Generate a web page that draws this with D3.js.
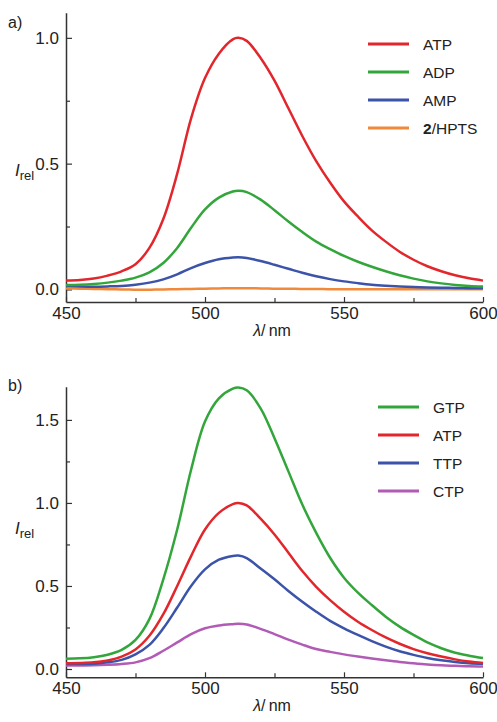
<!DOCTYPE html>
<html><head><meta charset="utf-8">
<script src="https://cdn.jsdelivr.net/npm/d3@7"></script>
<style>body{margin:0;background:#fff}svg{display:block}text{font-family:"Liberation Sans",Arial,sans-serif;fill:#222}</style>
</head><body>
<script>
const wavelengths = [450,455,460,465,470,475,480,485,490,495,500,505,510,512,515,520,525,530,535,540,545,550,555,560,565,570,575,580,585,590,595,600];
// panel a
const atpA = [0.035,0.037,0.043,0.055,0.072,0.10,0.165,0.28,0.46,0.68,0.84,0.937,0.994,1.0,0.988,0.92,0.83,0.72,0.61,0.51,0.425,0.35,0.29,0.235,0.19,0.15,0.118,0.092,0.072,0.056,0.044,0.035];
const adpA = [0.018,0.019,0.022,0.027,0.035,0.047,0.068,0.105,0.165,0.245,0.318,0.365,0.389,0.392,0.387,0.357,0.315,0.27,0.228,0.19,0.16,0.133,0.11,0.09,0.072,0.056,0.043,0.032,0.024,0.018,0.014,0.012];
const ampA = [0.014,0.012,0.011,0.012,0.014,0.019,0.027,0.04,0.06,0.085,0.105,0.12,0.127,0.128,0.125,0.113,0.098,0.082,0.066,0.052,0.041,0.032,0.025,0.019,0.015,0.012,0.01,0.008,0.007,0.006,0.005,0.005];
const hptsA = [0.004,0.003,0.002,0.001,0.0,-0.001,-0.001,0.0,0.001,0.002,0.003,0.004,0.005,0.005,0.005,0.004,0.003,0.003,0.002,0.002,0.001,0.001,0.001,0.001,0.001,0.001,0.001,0.001,0.001,0.001,0.001,0.001];
// panel b
const gtpB = [0.062,0.064,0.071,0.086,0.115,0.175,0.30,0.54,0.84,1.2,1.49,1.63,1.688,1.695,1.678,1.57,1.39,1.19,0.99,0.82,0.67,0.55,0.46,0.385,0.315,0.255,0.205,0.16,0.125,0.098,0.08,0.066];
const atpB = [0.035,0.036,0.04,0.052,0.075,0.118,0.2,0.33,0.5,0.68,0.84,0.94,0.993,1.0,0.985,0.905,0.81,0.70,0.59,0.495,0.415,0.345,0.285,0.235,0.19,0.152,0.12,0.095,0.075,0.058,0.045,0.036];
const ttpB = [0.03,0.03,0.032,0.04,0.055,0.088,0.145,0.245,0.37,0.5,0.6,0.658,0.681,0.683,0.668,0.605,0.54,0.47,0.405,0.345,0.29,0.245,0.205,0.168,0.135,0.107,0.085,0.066,0.052,0.042,0.035,0.031];
const ctpB = [0.021,0.021,0.022,0.025,0.03,0.04,0.065,0.11,0.16,0.21,0.245,0.262,0.27,0.272,0.268,0.242,0.21,0.177,0.147,0.12,0.103,0.088,0.075,0.063,0.052,0.042,0.034,0.027,0.022,0.019,0.016,0.015];

const xTicksMajor = [450,500,550,600];
const xTicksMinor = [475,525,575];
const yTicksA = [0.0,0.5,1.0];
const yMinorA = [0.25,0.75];
const yTicksB = [0.0,0.5,1.0,1.5];
const yMinorB = [0.25,0.75,1.25];

const seriesA = [
  {name:"ATP", values:atpA, color:"#e2272c"},
  {name:"ADP", values:adpA, color:"#33a63b"},
  {name:"AMP", values:ampA, color:"#3b53a8"},
  {name:"2/HPTS", values:hptsA, color:"#f08a3a"}
];
const seriesB = [
  {name:"GTP", values:gtpB, color:"#33a63b"},
  {name:"ATP", values:atpB, color:"#e2272c"},
  {name:"TTP", values:ttpB, color:"#3b53a8"},
  {name:"CTP", values:ctpB, color:"#b25bb6"}
];

const W = 497, H = 722;
const svg = d3.select("body").append("svg").attr("width", W).attr("height", H);

function panel(cfg) {
  const x = d3.scaleLinear().domain([450,600]).range([66,483]);
  const y = d3.scaleLinear().domain(cfg.yDomain).range(cfg.yRange);
  const g = svg.append("g");
  const axisColor = "#333";

  g.append("g").attr("transform", `translate(0,${cfg.yRange[0]})`)
    .call(d3.axisBottom(x).tickValues(xTicksMajor).tickSize(-5).tickSizeOuter(0).tickPadding(5).tickFormat(d3.format("d")));
  g.append("g").attr("transform", `translate(0,${cfg.yRange[0]})`)
    .call(d3.axisBottom(x).tickValues(xTicksMinor).tickSize(-4).tickSizeOuter(0).tickFormat(""))
    .call(s => s.select(".domain").remove());
  g.append("g").attr("transform", `translate(66,0)`)
    .call(d3.axisLeft(y).tickValues(cfg.yTicks).tickSize(-6).tickSizeOuter(0).tickPadding(7).tickFormat(d3.format(".1f")));
  g.append("g").attr("transform", `translate(66,0)`)
    .call(d3.axisLeft(y).tickValues(cfg.yMinor).tickSize(-4).tickSizeOuter(0).tickFormat(""))
    .call(s => s.select(".domain").remove());

  g.selectAll(".domain").attr("stroke", axisColor).attr("stroke-width", 1.5);
  g.selectAll(".tick line").attr("stroke", axisColor).attr("stroke-width", 1.2);
  g.selectAll(".tick text").attr("font-size", 17).attr("fill", "#222")
    .attr("font-family", '"Liberation Sans", Arial, sans-serif');

  const line = d3.line().x((d,i)=>x(wavelengths[i])).y(d=>y(d)).curve(d3.curveCatmullRom.alpha(0.5));
  const order = cfg.series.slice().reverse();
  g.selectAll("path.series").data(order).join("path").attr("class","series")
    .attr("d", d => line(d.values)).attr("fill","none")
    .attr("stroke", d => d.color).attr("stroke-width", 2.5).attr("stroke-linejoin","round");

  cfg.series.forEach((s, i) => {
    const ly = cfg.legendY + i * 28;
    g.append("line").attr("x1", cfg.legendX).attr("x2", cfg.legendX + 41)
      .attr("y1", ly).attr("y2", ly).attr("stroke", s.color).attr("stroke-width", 2.8);
    const t = g.append("text").attr("x", cfg.legendX + 55).attr("y", ly).attr("dy", "0.36em")
      .attr("font-size", 15.5);
    if (s.name.startsWith("2/")) {
      t.append("tspan").attr("font-weight", "bold").text("2");
      t.append("tspan").text(s.name.slice(1));
    } else t.text(s.name);
  });

  g.append("text").attr("x", 8).attr("y", cfg.labelY).attr("font-size", 16).text(cfg.label);
  const yt = g.append("text").attr("x", 15).attr("y", cfg.yTitleY).attr("font-size", 17);
  yt.append("tspan").attr("font-style", "italic").text("I");
  yt.append("tspan").attr("font-size", 13).attr("dy", 4).text("rel");
  const xt = g.append("text").attr("x", 272).attr("y", cfg.yRange[0] + 34).attr("text-anchor", "middle").attr("font-size", 16);
  xt.append("tspan").attr("font-style", "italic").text("λ");
  xt.append("tspan").text("/\u2009nm");
}

panel({yDomain:[-0.05,1.1], yRange:[302,12.7], yTicks:yTicksA, yMinor:yMinorA, series:seriesA,
  legendX:368, legendY:44, label:"a)", labelY:28, yTitleY:176});
panel({yDomain:[-0.05,1.7], yRange:[677.3,386.7], yTicks:yTicksB, yMinor:yMinorB, series:seriesB,
  legendX:378, legendY:407, label:"b)", labelY:391, yTitleY:534});
</script>
</body></html>
